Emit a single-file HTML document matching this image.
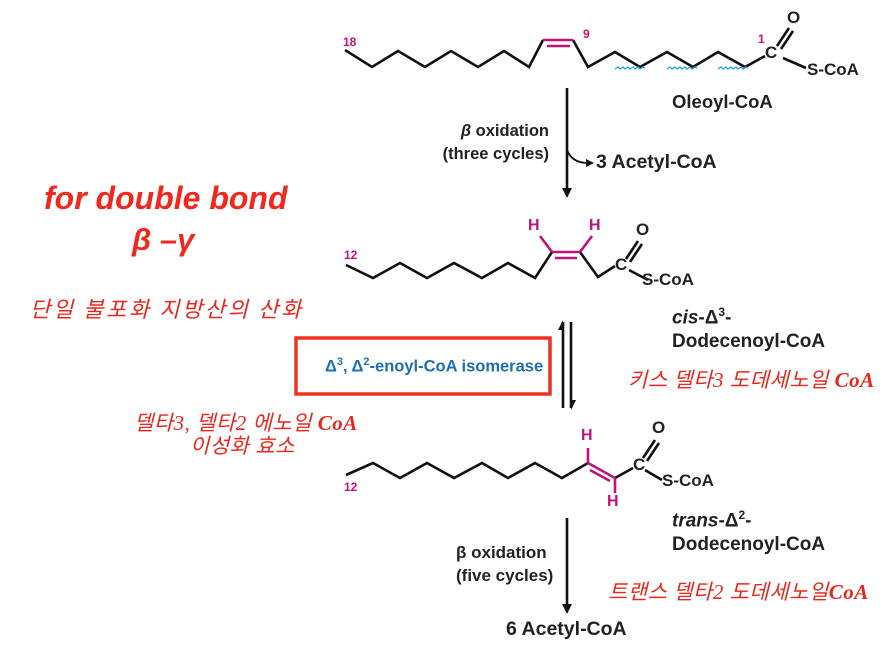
<!DOCTYPE html>
<html><head><meta charset="utf-8"><style>
body{margin:0;background:#fff;width:894px;height:648px;overflow:hidden;position:relative;font-family:"Liberation Sans","Noto Sans CJK KR",sans-serif}
.t{position:absolute;white-space:nowrap}
.b{font-weight:bold;color:#222}
.kr{color:#e8281e;font-family:"Noto Sans CJK KR",sans-serif;font-size:22px;letter-spacing:2.6px}
.krs{color:#e8281e;font-family:"Liberation Serif","Noto Sans CJK KR",serif;font-style:italic;font-weight:normal;font-size:21px;letter-spacing:0.5px}
.krs b{font-family:"Liberation Serif",serif;font-weight:bold}
</style></head><body>
<svg width="894" height="648" style="position:absolute;left:0;top:0" fill="none" stroke-linejoin="miter">
<g stroke="#111" stroke-width="2.6">
<polyline points="345,50 372,67 398,51 425,67 451,51 478,67 504,51 529,67 543,40"/>
<polyline points="573,40 588,67 615,52 640,67 667,52 693,67 718,52 745,67 765,56"/>
<line x1="783" y1="58" x2="806" y2="68"/>
<line x1="777" y1="46" x2="789" y2="28"/><line x1="781" y1="49" x2="793" y2="31"/>
<polyline points="346,265 373,278 400,263 427,278 454,263 482,278 508,263 535,278 552,252"/>
<polyline points="580,252 598,277 615,266"/>
<line x1="629" y1="270" x2="648" y2="280"/>
<line x1="626" y1="259" x2="638" y2="241"/><line x1="630" y1="262" x2="642" y2="244"/>
<polyline points="346,475 373,463 400,478 427,463 454,478 482,463 508,478 535,463 562,478 588,463"/>
<line x1="615" y1="478" x2="633" y2="468"/>
<line x1="645" y1="470" x2="662" y2="480"/>
<line x1="643" y1="458" x2="655" y2="440"/><line x1="647" y1="461" x2="659" y2="443"/>
<line x1="567" y1="88" x2="567" y2="190"/>
<line x1="567" y1="518" x2="567" y2="606"/>
<line x1="563" y1="322" x2="563" y2="408"/><line x1="571" y1="322" x2="571" y2="408"/>
</g>
<g fill="#111" stroke="none">
<polygon points="562,188 572,188 567,198"/>
<polygon points="562,604 572,604 567,614"/>
<polygon points="558,330 563,320 563,330"/>
<polygon points="571,400 576,400 571,410"/>
</g>
<path d="M567,150 Q572,163 588,163" stroke="#111" stroke-width="1.8"/>
<polygon points="586,159 594,163 586,167" fill="#111"/>
<g stroke="#c0127a" stroke-width="2.6">
<line x1="543" y1="40" x2="573" y2="40"/><line x1="547" y1="46" x2="570" y2="46"/>
<line x1="552" y1="252" x2="580" y2="252"/><line x1="555" y1="258" x2="577" y2="258"/>
<line x1="552" y1="252" x2="540" y2="236"/><line x1="580" y1="252" x2="592" y2="236"/>
<line x1="588" y1="463" x2="615" y2="478"/><line x1="590" y1="470" x2="610" y2="481"/>
<line x1="588" y1="463" x2="588" y2="448"/><line x1="615" y1="478" x2="615" y2="493"/>
</g>
<g stroke="#2aa4dc" stroke-width="1.3">
<path d="M615,69 l3,-2 2,2 3,-2 2,2 3,-2 2,2 3,-2 2,2 3,-2 2,2 3,-2 2,1"/>
<path d="M667,69 l3,-2 2,2 3,-2 2,2 3,-2 2,2 3,-2 2,2 3,-2 2,2 3,-2 2,1"/>
<path d="M718,69 l3,-2 2,2 3,-2 2,2 3,-2 2,2 3,-2 2,2 3,-2 2,2 3,-2 2,1"/>
</g>
<rect x="296" y="338" width="254" height="56" stroke="#ee3322" stroke-width="3.5"/>
</svg>
<div class="t" style="left:343px;top:35px;color:#c0127a;font-weight:bold;font-size:12px">18</div>
<div class="t" style="left:583px;top:27px;color:#c0127a;font-weight:bold;font-size:12px">9</div>
<div class="t" style="left:758px;top:32px;color:#c0127a;font-weight:bold;font-size:12px">1</div>
<div class="t b" style="left:765px;top:43px;font-size:17px">C</div>
<div class="t b" style="left:787px;top:8px;font-size:17px">O</div>
<div class="t b" style="left:807px;top:60px;font-size:17px">S-CoA</div>
<div class="t b" style="left:672px;top:91px;font-size:18.5px">Oleoyl-CoA</div>
<div class="t b" style="right:345px;top:120px;font-size:16.5px;text-align:right;line-height:23px"><i>β</i> oxidation<br>(three cycles)</div>
<div class="t b" style="left:596px;top:151px;font-size:19.5px">3 Acetyl-CoA</div>
<div class="t" style="left:44px;top:180px;font-size:32px;font-weight:bold;font-style:italic;color:#f0281e">for double bond</div>
<div class="t" style="left:132px;top:222px;font-size:31px;font-weight:bold;font-style:italic;color:#f0281e">β –γ</div>
<div class="t kr" style="left:30px;top:292px;font-style:italic">단일 불포화 지방산의 산화</div>
<div class="t" style="left:344px;top:248px;color:#c0127a;font-weight:bold;font-size:12px">12</div>
<div class="t" style="left:528px;top:217px;color:#c0127a;font-weight:bold;font-size:16px">H</div>
<div class="t" style="left:589px;top:217px;color:#c0127a;font-weight:bold;font-size:16px">H</div>
<div class="t b" style="left:615px;top:255px;font-size:17px">C</div>
<div class="t b" style="left:636px;top:220px;font-size:17px">O</div>
<div class="t b" style="left:642px;top:270px;font-size:17px">S-CoA</div>
<div class="t b" style="left:672px;top:300px;font-size:19px;line-height:24px"><i>cis</i>-Δ<sup style="font-size:12px">3</sup>-<br>Dodecenoyl-CoA</div>
<div class="t" style="left:325px;top:356px;font-size:16.5px;font-weight:bold;color:#1e6fb0">Δ<sup style="font-size:11px">3</sup>, Δ<sup style="font-size:11px">2</sup>-enoyl-CoA isomerase</div>
<div class="t krs" style="left:628px;top:364px">키스 델타3 도데세노일 <b>CoA</b></div>
<div class="t krs" style="left:134px;top:407px">델타3, 델타2 에노일 <b>CoA</b></div>
<div class="t krs" style="left:190px;top:430px">이성화 효소</div>
<div class="t" style="left:344px;top:480px;color:#c0127a;font-weight:bold;font-size:12px">12</div>
<div class="t" style="left:581px;top:427px;color:#c0127a;font-weight:bold;font-size:16px">H</div>
<div class="t" style="left:607px;top:493px;color:#c0127a;font-weight:bold;font-size:16px">H</div>
<div class="t b" style="left:633px;top:455px;font-size:17px">C</div>
<div class="t b" style="left:652px;top:418px;font-size:17px">O</div>
<div class="t b" style="left:662px;top:471px;font-size:17px">S-CoA</div>
<div class="t b" style="left:672px;top:503px;font-size:19px;line-height:24px"><i>trans</i>-Δ<sup style="font-size:12px">2</sup>-<br>Dodecenoyl-CoA</div>
<div class="t b" style="left:456px;top:541px;font-size:17px;line-height:23px">β oxidation<br>(five cycles)</div>
<div class="t krs" style="left:608px;top:576px">트랜스 델타2 도데세노일<b>CoA</b></div>
<div class="t b" style="left:506px;top:618px;font-size:19.5px">6 Acetyl-CoA</div>
</body></html>
